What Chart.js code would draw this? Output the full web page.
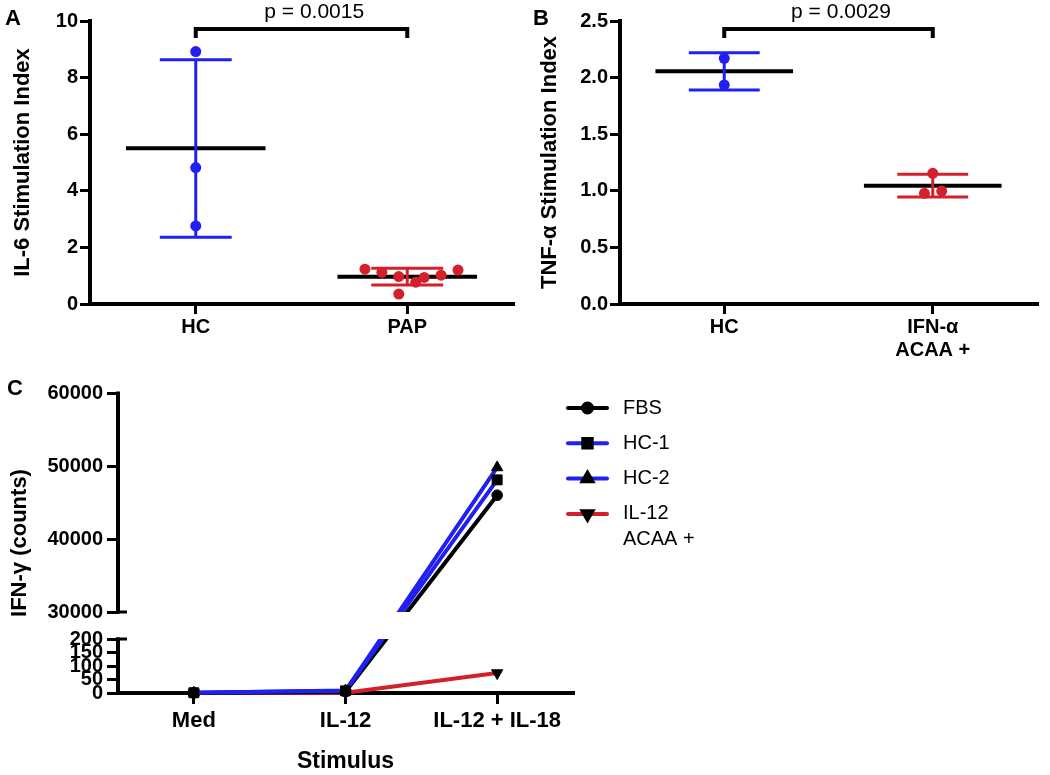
<!DOCTYPE html>
<html>
<head>
<meta charset="utf-8">
<script src="https://cdn.jsdelivr.net/npm/chart.js@4.4.0/dist/chart.umd.min.js"></script>
<style>
  body { margin: 0; background: #fff; width: 1050px; height: 775px; position: relative; overflow: hidden; }
  canvas { position: absolute; }
</style>
</head>
<body>
<canvas id="chart-a" width="520" height="370" style="left:0;top:0"></canvas>
<canvas id="chart-b" width="530" height="375" style="left:520px;top:0"></canvas>
<canvas id="chart-c" width="1050" height="400" style="left:0;top:375px"></canvas>
<script>
const FONT = '"Liberation Sans", Arial, Helvetica, sans-serif';
Chart.defaults.font.family = FONT;
Chart.defaults.color = '#000';
Chart.defaults.animation = false;
Chart.defaults.plugins.legend.display = false;
Chart.defaults.plugins.tooltip.enabled = false;

const BLUE = '#2020f2';
const RED = '#d3202a';

// --- A: IL-6 ---
const groupsA = ['HC', 'PAP'];
const il6HC = [8.92, 4.82, 2.76];
const il6HCJitter = [0, 0, 0];
const il6PAP = [1.23, 1.12, 0.97, 0.77, 0.94, 1.02, 1.20, 0.35];
const il6PAPJitter = [-0.20, -0.12, -0.04, 0.04, 0.08, 0.16, 0.24, -0.04];
const il6Mean = [5.5, 0.965];
const il6Upper = [8.63, 1.26];
const il6Lower = [2.36, 0.67];
const pA = 'p = 0.0015';

// --- B: TNF-a ---
const groupsB = ['HC', ['IFN-α', 'ACAA +']];
const tnfHC = [2.17, 1.935];
const tnfHCJitter = [0, 0];
const tnfACAA = [1.154, 0.978, 0.998];
const tnfACAAJitter = [0, -0.04, 0.043];
const tnfMean = [2.055, 1.045];
const tnfUpper = [2.22, 1.146];
const tnfLower = [1.89, 0.945];
const pB = 'p = 0.0029';

// --- C: IFN-g ---
const stimuli = ['Med', 'IL-12', 'IL-12 + IL-18'];
const ifnFBS = [0, 5, 46000];
const ifnHC1 = [1, 8, 48100];
const ifnHC2 = [1, 9, 49800];
const ifnACAA = [0, 1, 74];
const ticksLowC = [0, 50, 100, 150, 200];
const ticksHighC = [30000, 40000, 50000, 60000];

// helpers to build datasets
function points(vals, jitter, g) {
    return vals.map((v, i) => ({ x: g + jitter[i], y: v }));
}
function meanBars(means) {
    const out = [];
    means.forEach((m, i) => {
        const g = i + 1;
        out.push({ x: g - 0.33, y: m }, { x: g + 0.33, y: m }, { x: g, y: null });
    });
    return out;
}
function errBar(g, hi, lo) {
    return [
        { x: g - 0.17, y: hi }, { x: g + 0.17, y: hi }, { x: g, y: null },
        { x: g, y: hi }, { x: g, y: lo }, { x: g, y: null },
        { x: g - 0.17, y: lo }, { x: g + 0.17, y: lo }
    ];
}

// significance bracket + p value
const bracketPlugin = {
    id: 'bracket',
    afterDraw(chart, args, opts) {
        const { ctx, scales: { x, y } } = chart;
        const x1 = x.getPixelForValue(opts.from), x2 = x.getPixelForValue(opts.to);
        const yTop = y.getPixelForValue(opts.level);
        const yEnd = y.getPixelForValue(opts.level - opts.drop);
        ctx.save();
        ctx.strokeStyle = '#000';
        ctx.lineWidth = 4;
        ctx.beginPath();
        ctx.moveTo(x1, yEnd); ctx.lineTo(x1, yTop); ctx.lineTo(x2, yTop); ctx.lineTo(x2, yEnd);
        ctx.stroke();
        ctx.fillStyle = '#000';
        ctx.font = '21px ' + FONT;
        ctx.textAlign = 'center';
        ctx.textBaseline = 'alphabetic';
        ctx.fillText(opts.text, x.getPixelForValue(opts.textAt), yTop - 11);
        ctx.restore();
    }
};

const letterPlugin = {
    id: 'letter',
    afterDraw(chart, args, opts) {
        const ctx = chart.ctx;
        ctx.save();
        ctx.fillStyle = '#000';
        ctx.font = 'bold 22px ' + FONT;
        ctx.textBaseline = 'alphabetic';
        ctx.fillText(opts.text, opts.x, opts.y);
        ctx.restore();
    }
};

function axisStyle(extra) {
    return Object.assign({
        grid: { display: true, drawOnChartArea: false, tickLength: 10, lineWidth: 3, color: '#000' },
        border: { color: '#000', width: 4 }
    }, extra);
}

function dotPlot(id, o) {
    return new Chart(document.getElementById(id), {
        type: 'scatter',
        data: {
            datasets: [
                { data: o.pts[0], backgroundColor: BLUE, pointRadius: 5.5, borderWidth: 0, clip: false },
                { data: o.pts[1], backgroundColor: RED, pointRadius: 5.5, borderWidth: 0, clip: false },
                { type: 'line', data: errBar(1, o.upper[0], o.lower[0]), borderColor: BLUE, borderWidth: 3, pointRadius: 0 },
                { type: 'line', data: errBar(2, o.upper[1], o.lower[1]), borderColor: RED, borderWidth: 3, pointRadius: 0 },
                { type: 'line', data: meanBars(o.mean), borderColor: '#000', borderWidth: 4, pointRadius: 0 }
            ]
        },
        options: {
            responsive: false,
            devicePixelRatio: 1,
            layout: { padding: { top: 21, right: o.padRight, left: 0, bottom: 0 } },
            scales: {
                x: axisStyle({
                    type: 'linear', min: 0.5, max: 2.5,
                    afterBuildTicks: s => { s.ticks = o.groups.map((_, i) => ({ value: i + 1 })); },
                    ticks: { callback: v => o.groups[Math.round(v) - 1], font: { size: 20, weight: 'bold', lineHeight: 1.15 }, padding: 2, autoSkip: false, maxRotation: 0 },
                    afterFit: s => { s.height = o.xHeight; }
                }),
                y: axisStyle({
                    min: 0, max: o.yMax,
                    ticks: { stepSize: o.step, callback: o.fmt, font: { size: 20, weight: 'bold' }, padding: 2 },
                    title: { display: true, text: o.title, font: { size: 22, weight: 'bold' }, padding: { top: o.titlePad, bottom: 0 } },
                    afterFit: s => { s.width = o.yWidth; }
                })
            },
            plugins: {
                bracket: { from: 1, to: 2, level: o.bracket, drop: o.drop, text: o.p, textAt: 1.56 },
                letter: o.letter
            }
        },
        plugins: [bracketPlugin, letterPlugin]
    });
}

dotPlot('chart-a', {
    groups: groupsA,
    pts: [points(il6HC, il6HCJitter, 1), points(il6PAP, il6PAPJitter, 2)],
    mean: il6Mean, upper: il6Upper, lower: il6Lower,
    yMax: 10, step: 2, fmt: v => String(v),
    title: 'IL-6 Stimulation Index', titlePad: 10,
    yWidth: 90, xHeight: 66, padRight: 7,
    bracket: 9.72, drop: 0.32, p: pA,
    letter: { text: 'A', x: 5, y: 25 }
});

dotPlot('chart-b', {
    groups: groupsB,
    pts: [points(tnfHC, tnfHCJitter, 1), points(tnfACAA, tnfACAAJitter, 2)],
    mean: tnfMean, upper: tnfUpper, lower: tnfLower,
    yMax: 2.5, step: 0.5, fmt: v => v.toFixed(1),
    title: 'TNF-α Stimulation Index', titlePad: 17,
    yWidth: 100, xHeight: 71, padRight: 13,
    bracket: 2.43, drop: 0.08, p: pB,
    letter: { text: 'B', x: 13, y: 25 }
});

// --- broken y axis for panel C ---
class BrokenAxis extends Chart.LinearScale {
    static id = 'broken';
    buildTicks() {
        return ticksLowC.concat(ticksHighC).map(v => ({ value: v }));
    }
    bands() {
        const h = this.bottom - this.top;
        return { lowTop: this.bottom - h * 0.18, highBottom: this.bottom - h * 0.27 };
    }
    getPixelForValue(v) {
        if (v === null || v === undefined || isNaN(v)) return NaN;
        const lowMax = ticksLowC[ticksLowC.length - 1];
        const highMin = ticksHighC[0], highMax = ticksHighC[ticksHighC.length - 1];
        const { lowTop, highBottom } = this.bands();
        if (v <= lowMax) return this.bottom - v / lowMax * (this.bottom - lowTop);
        if (v >= highMin) return highBottom - (v - highMin) / (highMax - highMin) * (highBottom - this.top);
        return lowTop - (v - lowMax) / (highMin - lowMax) * (lowTop - highBottom);
    }
    getValueForPixel(p) {
        const lowMax = ticksLowC[ticksLowC.length - 1];
        const highMin = ticksHighC[0], highMax = ticksHighC[ticksHighC.length - 1];
        const { lowTop, highBottom } = this.bands();
        if (p >= lowTop) return (this.bottom - p) / (this.bottom - lowTop) * lowMax;
        if (p <= highBottom) return highMin + (highBottom - p) / (highBottom - this.top) * (highMax - highMin);
        return lowMax + (lowTop - p) / (lowTop - highBottom) * (highMin - lowMax);
    }
}
Chart.register(BrokenAxis);

const breakPlugin = {
    id: 'breakAxis',
    afterDatasetsDraw(chart) {
        const { ctx, chartArea, scales: { y } } = chart;
        const top = y.getPixelForValue(ticksHighC[0]);
        const bot = y.getPixelForValue(ticksLowC[ticksLowC.length - 1]);
        ctx.save();
        ctx.fillStyle = '#fff';
        ctx.fillRect(chartArea.left + 3, top, chartArea.right - chartArea.left, bot - top);
        ctx.restore();
    },
    afterDraw(chart) {
        const { ctx, chartArea, scales: { y } } = chart;
        const x = chartArea.left;
        const pHighBot = y.getPixelForValue(ticksHighC[0]);
        const pLowTop = y.getPixelForValue(ticksLowC[ticksLowC.length - 1]);
        ctx.save();
        ctx.strokeStyle = '#000';
        ctx.lineWidth = 4;
        ctx.beginPath();
        ctx.moveTo(x, chartArea.top - 1.5); ctx.lineTo(x, pHighBot + 1.5);
        ctx.moveTo(x, pLowTop - 1.5); ctx.lineTo(x, chartArea.bottom + 2);
        ctx.stroke();
        ctx.lineWidth = 3;
        ctx.beginPath();
        ctx.moveTo(x - 2, pHighBot); ctx.lineTo(x + 9, pHighBot);
        ctx.moveTo(x - 2, pLowTop); ctx.lineTo(x + 9, pLowTop);
        ctx.stroke();
        ctx.restore();
    }
};

function drawMarker(ctx, style, rot, r, x, y) {
    if (Chart.helpers && Chart.helpers.drawPoint) {
        Chart.helpers.drawPoint(ctx, { pointStyle: style, rotation: rot || 0, radius: r, borderWidth: 1 }, x, y);
    } else {
        ctx.beginPath(); ctx.arc(x, y, r, 0, Math.PI * 2); ctx.fill();
    }
}

const sideLegend = {
    id: 'sideLegend',
    afterDraw(chart, args, opts) {
        const ctx = chart.ctx;
        chart.data.datasets.forEach((ds, i) => {
            const y = opts.top + i * opts.gap;
            ctx.save();
            ctx.strokeStyle = ds.borderColor;
            ctx.lineWidth = 4;
            ctx.lineCap = 'round';
            ctx.beginPath();
            ctx.moveTo(opts.x, y); ctx.lineTo(opts.x + opts.len, y);
            ctx.stroke();
            ctx.fillStyle = '#000';
            ctx.strokeStyle = '#000';
            drawMarker(ctx, ds.pointStyle, ds.pointRotation, ds.pointRadius * 0.85, opts.x + opts.len / 2, y);
            ctx.font = '20px ' + FONT;
            ctx.textBaseline = 'middle';
            ctx.textAlign = 'left';
            const lines = Array.isArray(ds.label) ? ds.label : [ds.label];
            lines.forEach((t, k) => ctx.fillText(t, opts.x + opts.len + 16, y + k * 26));
            ctx.restore();
        });
    }
};

const lineDefaults = { borderWidth: 4, pointBackgroundColor: '#000', pointBorderColor: '#000', pointBorderWidth: 1, clip: false, tension: 0 };

new Chart(document.getElementById('chart-c'), {
    type: 'line',
    data: {
        labels: stimuli,
        datasets: [
            Object.assign({ label: 'FBS', data: ifnFBS, borderColor: '#000', pointStyle: 'circle', pointRadius: 5.3, order: 2 }, lineDefaults),
            Object.assign({ label: 'HC-1', data: ifnHC1, borderColor: BLUE, pointStyle: 'rect', pointRadius: 7, order: 1 }, lineDefaults),
            Object.assign({ label: 'HC-2', data: ifnHC2, borderColor: BLUE, pointStyle: 'triangle', pointRadius: 6.5, order: 3 }, lineDefaults),
            Object.assign({ label: ['IL-12', 'ACAA +'], data: ifnACAA, borderColor: RED, pointStyle: 'triangle', pointRotation: 180, pointRadius: 6.5, order: 4 }, lineDefaults)
        ]
    },
    options: {
        responsive: false,
        devicePixelRatio: 1,
        layout: { padding: { top: 18, right: 477, left: 0, bottom: 0 } },
        scales: {
            x: {
                offset: true,
                grid: { display: true, offset: false, drawOnChartArea: false, tickLength: 11, lineWidth: 3, color: '#000' },
                border: { color: '#000', width: 4 },
                ticks: { font: { size: 22, weight: 'bold' }, padding: 4, autoSkip: false, maxRotation: 0 },
                title: { display: true, text: 'Stimulus', font: { size: 23, weight: 'bold' }, padding: { top: 0, bottom: 0 } },
                afterFit: s => { s.height = 82; }
            },
            y: {
                type: 'broken', min: 0, max: 60000,
                grid: { display: true, drawOnChartArea: false, tickLength: 11, lineWidth: 3, color: '#000' },
                border: { display: false },
                ticks: { callback: v => String(v), font: { size: 20, weight: 'bold' }, padding: 4, autoSkip: false },
                title: { display: true, text: 'IFN-γ (counts)', font: { size: 22, weight: 'bold' }, padding: { top: 7, bottom: 0 } },
                afterFit: s => { s.width = 118; }
            }
        },
        plugins: {
            letter: { text: 'C', x: 7, y: 20 },
            sideLegend: { x: 568, len: 39, top: 33, gap: 35.3 }
        }
    },
    plugins: [breakPlugin, letterPlugin, sideLegend]
});
</script>
</body>
</html>
